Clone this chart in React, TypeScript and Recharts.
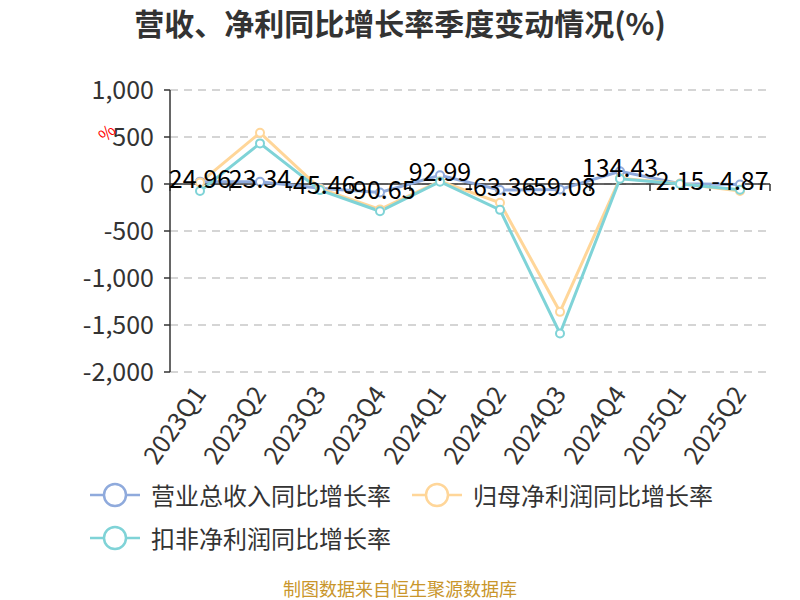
import React from 'react';
import { LineChart, Line, XAxis, YAxis, CartesianGrid, ReferenceLine, LabelList } from 'recharts';

const categories = ['2023Q1', '2023Q2', '2023Q3', '2023Q4', '2024Q1', '2024Q2', '2024Q3', '2024Q4', '2025Q1', '2025Q2'];
const revenueGrowth = [24.96, 23.34, -45.46, -90.65, 92.99, -63.36, -59.08, 134.43, 2.15, -4.87];
const netProfitGrowth = [15, 545, -50, -270, 30, -200, -1360, 60, 5, -75];
const deductedProfitGrowth = [-75, 432, -65, -290, 25, -275, -1590, 55, 0, -60];
const yTicks = [-2000, -1500, -1000, -500, 0, 500, 1000];

const seriesNames = ['营业总收入同比增长率', '归母净利润同比增长率', '扣非净利润同比增长率'];
const seriesColors = ['#8FAADC', '#FFD699', '#7FD3D7'];

const data = categories.map((q, i) => ({
  q,
  rev: revenueGrowth[i],
  net: netProfitGrowth[i],
  ded: deductedProfitGrowth[i],
}));

const FONT = '"Noto Sans CJK SC", "Noto Sans", sans-serif';

const fmtY = (v: number) => v.toLocaleString('en-US');

const XTick = (props: any) => {
  const { x, y, payload } = props;
  return (
    <text
      x={x}
      y={y}
      transform={`rotate(-55, ${x}, ${y})`}
      textAnchor="end"
      dy="0.35em"
      fontSize={25}
      fill="#333"
      fontFamily={FONT}
    >
      {payload.value}
    </text>
  );
};

const ZeroAxis = (props: any) => {
  const { x1, y1, x2, y2 } = props;
  const n = categories.length;
  const step = (x2 - x1) / n;
  const ticks = [];
  for (let i = 0; i <= n; i++) {
    const tx = x1 + step * i;
    ticks.push(<line key={i} x1={tx} x2={tx} y1={y1} y2={y1 + 7} stroke="#333" strokeWidth={1.5} />);
  }
  return (
    <g>
      <line x1={x1} y1={y1} x2={x2} y2={y2} stroke="#333" strokeWidth={1.5} />
      {ticks}
    </g>
  );
};

const ValueLabel = (props: any) => {
  const { x, y, value } = props;
  return (
    <text x={x} y={y} dy={6} textAnchor="middle" fontSize={25} fill="#000" fontFamily={FONT}>
      {value}
    </text>
  );
};

const LegendIcon = ({ color }: { color: string }) => (
  <svg width={50} height={26} style={{ display: 'block' }}>
    <line x1={0} y1={13} x2={50} y2={13} stroke={color} strokeWidth={2.5} />
    <circle cx={25} cy={13} r={11} fill="#fff" stroke={color} strokeWidth={2.5} />
  </svg>
);

const LegendItem = ({ i, left, top }: { i: number; left: number; top: number }) => (
  <div style={{ position: 'absolute', left, top, display: 'flex', alignItems: 'center', whiteSpace: 'nowrap' }}>
    <LegendIcon color={seriesColors[i]} />
    <span style={{ marginLeft: 11, fontSize: 24, color: '#333', fontFamily: FONT, lineHeight: '26px' }}>{seriesNames[i]}</span>
  </div>
);

export default function App() {
  return (
    <div style={{ position: 'absolute', left: 0, top: 0, width: 800, height: 600, background: '#fff', overflow: 'hidden' }}>
      <div
        style={{
          position: 'absolute',
          left: 0,
          top: 3,
          width: 800,
          textAlign: 'center',
          fontSize: 30,
          fontWeight: 'bold',
          color: '#333',
          fontFamily: FONT,
          lineHeight: '38px',
        }}
      >
        营收、净利同比增长率季度变动情况(%)
      </div>
      <div style={{ position: 'absolute', left: 0, top: 0 }}>
        <LineChart width={800} height={600} data={data} margin={{ top: 90, right: 30, left: 0, bottom: 0 }}>
          <CartesianGrid vertical={false} stroke="#c8c8c8" strokeDasharray="8 6" strokeWidth={1.5} />
          <XAxis
            dataKey="q"
            scale="band"
            axisLine={false}
            tickLine={false}
            tickSize={0}
            tickMargin={17}
            height={228}
            interval={0}
            tick={<XTick />}
          />
          <YAxis
            domain={[-2000, 1000]}
            ticks={yTicks}
            width={170}
            tickFormatter={fmtY}
            axisLine={{ stroke: '#333', strokeWidth: 1.5 }}
            tickLine={{ stroke: '#333', strokeWidth: 1.5 }}
            tickSize={6}
            tickMargin={10}
            tick={{ fontSize: 25, fill: '#333', fontFamily: FONT }}
            allowDataOverflow
          />
          <ReferenceLine y={0} shape={<ZeroAxis />} />
          <Line
            dataKey="rev"
            stroke={seriesColors[0]}
            strokeWidth={3}
            dot={{ r: 4, fill: '#fff', stroke: seriesColors[0], strokeWidth: 2 }}
            isAnimationActive={false}
          />
          <Line
            dataKey="net"
            stroke={seriesColors[1]}
            strokeWidth={3}
            dot={{ r: 4, fill: '#fff', stroke: seriesColors[1], strokeWidth: 2 }}
            isAnimationActive={false}
          />
          <Line
            dataKey="ded"
            stroke={seriesColors[2]}
            strokeWidth={3}
            dot={{ r: 4, fill: '#fff', stroke: seriesColors[2], strokeWidth: 2 }}
            isAnimationActive={false}
          />
          <Line dataKey="rev" stroke="none" dot={false} activeDot={false} isAnimationActive={false}>
            <LabelList dataKey="rev" content={<ValueLabel />} />
          </Line>
        </LineChart>
      </div>
      <svg style={{ position: 'absolute', left: 0, top: 0 }} width={800} height={600} pointerEvents="none">
        <text x={107} y={133} transform="rotate(-45, 107, 133)" textAnchor="middle" dy="0.35em" fontSize={17} fill="#ff0000" fontFamily={FONT}>
          %
        </text>
      </svg>
      <LegendItem i={0} left={90} top={482} />
      <LegendItem i={1} left={412} top={482} />
      <LegendItem i={2} left={90} top={525} />
      <div
        style={{
          position: 'absolute',
          left: 0,
          top: 577,
          width: 800,
          textAlign: 'center',
          fontSize: 18,
          color: '#C9962B',
          fontFamily: FONT,
          lineHeight: '22px',
        }}
      >
        制图数据来自恒生聚源数据库
      </div>
    </div>
  );
}
